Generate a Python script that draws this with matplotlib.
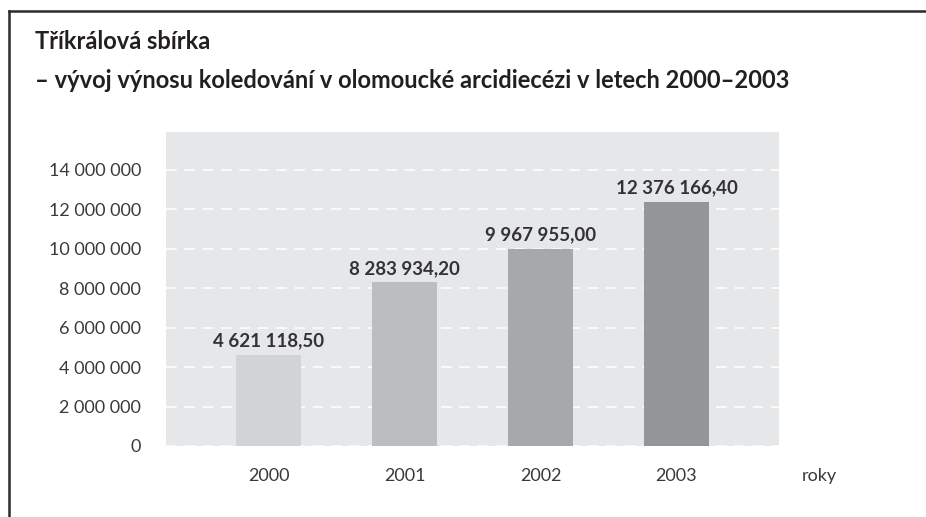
import matplotlib
matplotlib.use("Agg")
import matplotlib.pyplot as plt
from matplotlib.ticker import FuncFormatter
from matplotlib.lines import Line2D

years = ["2000", "2001", "2002", "2003"]
values = [4621118.50, 8283934.20, 9967955.00, 12376166.40]
bar_colors = ["#d2d3d5", "#bcbdc0", "#a7a8ab", "#949598"]
yticks = [0, 2000000, 4000000, 6000000, 8000000, 10000000, 12000000, 14000000]
title1 = "Tříkrálová sbírka"
title2 = "– vývoj výnosu koledování v olomoucké arcidiecézi v letech 2000–2003"
xlabel = "roky"

plt.rcParams['font.family'] = ['Lato', 'DejaVu Sans']

def fmt_int(v, pos=None):
    return f"{int(round(v)):,}".replace(",", " ")

def fmt_val(v):
    s = f"{v:,.2f}"
    return s.replace(",", " ").replace(".", ",")

fig = plt.figure(figsize=(9.26, 5.17), dpi=100)
ax = fig.add_axes([166/926, 1-446/517, (779-166)/926, (446-132)/517])
ax.set_facecolor("#e6e7e8")
x = list(range(len(years)))
ax.bar(x, values, width=0.48, color=bar_colors, zorder=3)
ax.set_xlim(-0.754, 3.754)
ax.set_ylim(0, 15.9e6)
ax.set_yticks(yticks)
ax.yaxis.set_major_formatter(FuncFormatter(fmt_int))
ax.set_xticks(x)
ax.set_xticklabels(years)
ax.grid(axis='y', color='white', linestyle=(0, (7, 5)), linewidth=1.1, zorder=2)
ax.grid(axis='x', visible=False)
for s in ax.spines.values():
    s.set_visible(False)
ax.tick_params(axis='both', length=0, labelsize=13, labelcolor="#3a3a3c")
ax.tick_params(axis='y', pad=18)
ax.tick_params(axis='x', pad=16)

for xi, v in zip(x, values):
    ax.annotate(fmt_val(v), (xi, v), xytext=(0, 4), textcoords='offset points',
                ha='center', va='bottom', fontsize=13.5, fontweight='bold', color="#333335",
                zorder=4)

fig.text(819/926, 1-476/517, xlabel, ha='center', va='center', fontsize=13, color="#3a3a3c")
fig.text(35/926, 1-49/517, title1, ha='left', va='baseline', fontsize=17, fontweight='bold', color="#231f20")
fig.text(35/926, 1-88/517, title2, ha='left', va='baseline', fontsize=17, fontweight='bold', color="#231f20")

# frame: top and left lines
fig.add_artist(Line2D([9/926, 1.0], [1-11/517, 1-11/517], transform=fig.transFigure, color="#2b2b2b", linewidth=1.8))
fig.add_artist(Line2D([9/926, 9/926], [1-11/517, 0.0], transform=fig.transFigure, color="#2b2b2b", linewidth=1.8))

fig.savefig("out.png", dpi=100)
